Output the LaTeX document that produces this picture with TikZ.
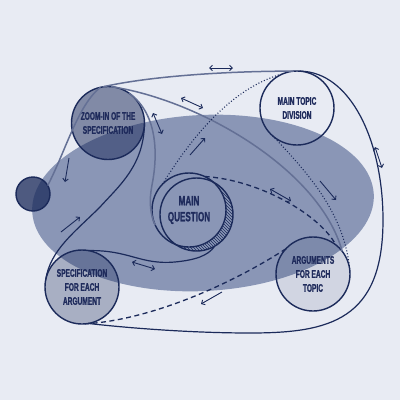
\documentclass[tikz,border=0pt]{standalone}
\usepackage{fontspec}
\newfontfamily\labfont{Liberation Sans}[FakeStretch=0.6,FakeBold=1.2]
\usetikzlibrary{arrows.meta}
\definecolor{bg}{HTML}{E8EBF3}
\definecolor{ellcol}{HTML}{8A96B6}
\definecolor{navy}{HTML}{1B2A5A}
\definecolor{grayline}{HTML}{647095}
\definecolor{txt}{HTML}{1F2B5C}
\begin{document}
\begin{tikzpicture}[x=1pt,y=-1pt,
  ring/.style={circle, draw=navy, line width=1.4pt, minimum size=#1, inner sep=0pt, outer sep=0pt, text opacity=1},
  lab/.style={text=txt, font=\labfont\bfseries\fontsize{11}{14}\selectfont, align=center},
  biglab/.style={text=txt, font=\labfont\bfseries\fontsize{13.5}{16}\selectfont, align=center},
  dk/.style={draw=navy, line width=1.2pt},
  gr/.style={draw=grayline, line width=1.5pt},
  tipb/.tip={Straight Barb[length=2.8pt,width=5.5pt]},
  arr/.style={draw=navy, line width=0.9pt, -tipb},
  darr/.style={draw=navy, line width=0.9pt, tipb-tipb},
  dots/.style={dk, line width=1.1pt, dash pattern=on 1pt off 2pt},
  dsh/.style={dk, line width=1.3pt, dash pattern=on 5pt off 3.5pt}]
\fill[bg] (0,0) rectangle (400,400);
\useasboundingbox (0,0) rectangle (400,400);
\fill[ellcol, rotate around={3:(203,203)}] (203,203) ellipse [x radius=171pt, y radius=88pt];
% hatched crescent of main question
\begin{scope}
  \clip (196.5,214.5) circle (36.5pt);
  \foreach \k in {-90,-87,...,90}
    \draw[navy, line width=0.6pt] (196.5+\k-45,214.5-45) -- (196.5+\k+45,214.5+45);
\end{scope}
\fill[ellcol] (189,210) circle (37pt);
% nodes
\node[ring=73pt, fill=navy, fill opacity=0.5, lab] (Z) at (108,123) {ZOOM-IN OF THE\\SPECIFICATION};
\node[ring=74pt, lab] (M) at (297,108) {MAIN TOPIC\\DIVISION};
\node[ring=73pt] (QB) at (196.5,214.5) {};
\node[ring=74pt, biglab] (Q) at (189,210) {MAIN\\QUESTION};
\node[ring=74pt, fill=navy, fill opacity=0.11, lab] (R) at (313,274) {ARGUMENTS\\FOR EACH\\TOPIC};
\node[ring=74pt, fill=navy, fill opacity=0.31, lab] (S) at (82,287) {SPECIFICATION\\FOR EACH\\ARGUMENT};
\node[ring=34pt, fill=navy, fill opacity=0.75] (C) at (33,194) {};
% connectors
\draw[gr] (M.95) .. controls (230,71) and (150,76) .. (Z.98);
\draw[dk] (M.85) .. controls (350,72) and (383,140) .. (383,220)
  .. controls (383,320) and (330,333) .. (250,333)
  .. controls (180,333) and (110,326) .. (S.-80);
\draw[gr] (Z.85) .. controls (200,100) and (320,170) .. (R.38);
\draw[gr] (Z.102) .. controls (78,105) and (66,150) .. (C.30);
\draw[dk] (Z.0) .. controls (144,165) and (120,185) .. (100,207)
  .. controls (75,232) and (50,250) .. (S.169);
\draw[gr] (Z.55) .. controls (160,115) and (157,160) .. (152,185)
  .. controls (149,200) and (150,215) .. (Q.204);
\draw[dk] (S.80) .. controls (130,250) and (140,265) .. (175,262)
  .. controls (195,260) and (208,256) .. (QB.-60);
\draw[dots] (Q.136) .. controls (190,140) and (230,88) .. (M.112);
\draw[dots] (M.229) .. controls (310,175) and (345,215) .. (R.5);
\draw[dsh] (Q.65) .. controls (260,180) and (320,215) .. (R.52);
\draw[dsh] (R.137) .. controls (230,285) and (150,320) .. (S.-85);
% small arrows
\draw[darr] (209,68) -- (233,68);
\draw[darr] (181,98) -- (203,108);
\draw[darr] (153,113) -- (162,134);
\draw[arr] (69,158) -- (65,182);
\draw[arr] (61,232) -- (80,217);
\draw[darr] (132,262) -- (155,269);
\draw[arr] (190,155) -- (205,138);
\draw[darr] (270,189) -- (291,201);
\draw[arr] (320,181) -- (336,200);
\draw[darr] (375,147) -- (382,168);
\draw[arr] (222,292) -- (201,304);
\end{tikzpicture}
\end{document}
